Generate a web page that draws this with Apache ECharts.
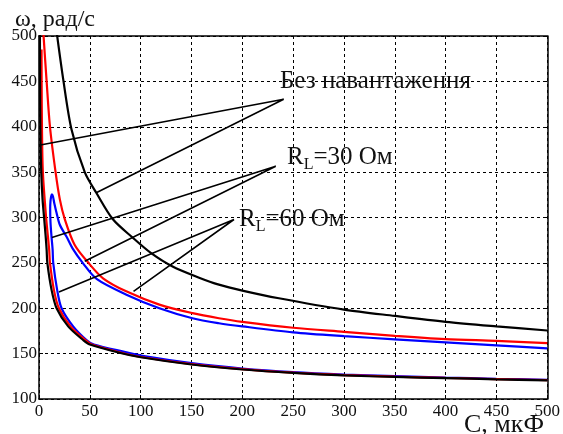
<!DOCTYPE html>
<html lang="uk">
<head>
  <meta charset="UTF-8">
  <title>ω(C)</title>
  <style>
    html, body { margin: 0; padding: 0; background: #fff; }
    #main { width: 563px; height: 434px; }
  </style>
</head>
<body>
  <div id="main"></div>
  <script src="https://cdn.jsdelivr.net/npm/echarts@6/dist/echarts.min.js"></script>
  <script>
    // ticks
    var xTicks = [0, 50, 100, 150, 200, 250, 300, 350, 400, 450, 500];
    var yTicks = [100, 150, 200, 250, 300, 350, 400, 450, 500];

    // без навантаження, нижня гілка
    var cBlackLow = [0.9, 1.0, 1.3, 2.2, 3.5, 5, 6.5, 7.5, 8.2, 12.4, 17.3, 28.7, 43.4, 50, 79, 100, 150, 200, 250, 300, 350, 400, 450, 500];
    var wBlackLow = [505, 450, 400, 350, 320, 300, 280, 264.6, 250, 220, 200, 180, 165, 160, 151, 146, 138, 132.5, 128.7, 126, 124.3, 123, 121.7, 120.5];
    // без навантаження, верхня гілка
    var cBlackUp = [17.3, 23.8, 32, 45, 56.5, 72.7, 92, 110, 131.4, 157.5, 177, 200, 236, 300, 350, 400, 450, 500];
    var wBlackUp = [505, 452.5, 397, 350, 327, 298, 278, 261, 246, 233.7, 226, 219.5, 211, 198.5, 191.5, 185, 180, 175.5];

    // RL = 60 Ом (червона)
    var cRedLow = [2.5, 2.6, 2.9, 3.8, 7, 10, 10.8, 14.7, 19.6, 31, 45.5, 52, 81, 102, 150, 200, 250, 300, 350, 400, 450, 500];
    var wRedLow = [485, 450, 400, 350, 300, 264.6, 250, 220, 200, 180, 165, 160, 151, 146, 138.5, 133, 129, 126.3, 124.6, 123.2, 122, 120.8];
    var cRedUp = [4.2, 7.5, 10.8, 16.3, 20.5, 25.4, 35, 48.2, 63, 85.8, 118.4, 151, 177, 200, 250, 300, 350, 400, 450, 500];
    var wRedUp = [505, 450, 400, 350, 320, 298, 270, 250.6, 233, 218.6, 204, 194.6, 189, 185, 178.5, 174, 169.6, 166, 164, 161.5];

    // RL = 30 Ом (синя), замкнена крива: нижня гілка -> петля -> верхня гілка
    var cBlue = [500, 450, 400, 350, 300, 250, 200, 150, 105, 84, 54, 46.7, 33.6, 22.2, 17.9, 14, 13.4, 12.3, 11.3, 11.0, 11.3, 12.0, 12.7, 13.7, 15, 17.3, 20.5, 27, 33, 43, 57, 86, 118.4, 151, 177, 200, 250, 300, 350, 400, 450, 500];
    var wBlue = [121.2, 122.3, 123.6, 125.2, 127, 129.6, 133.6, 139.5, 147, 152, 160, 165, 180, 200, 220, 250, 264.6, 279, 295, 310, 318, 323.5, 325.4, 323.5, 316, 305, 292, 279, 266, 250, 232, 215, 200, 189, 183.5, 180, 173.5, 169.3, 165.8, 162.4, 159.1, 155.8];

    // виноски: кінець, точка біля підпису, кінець
    var ptrNoLoad = [[0, 379.6], [240.7, 430.4], [56.8, 327.6]];
    var ptr30 = [[12.7, 278], [232.9, 356.4], [45, 251.7]];
    var ptr60 = [[19.6, 218], [191.8, 297.8], [93, 218.6]];

    function pairs(xs, ys) {
      return xs.map(function (x, i) { return [x, ys[i]]; });
    }

    var serif = 'Liberation Serif';

    function curve(name, xs, ys, color) {
      return {
        name: name, type: 'line', data: pairs(xs, ys),
        showSymbol: false, smooth: 0.3, clip: true,
        lineStyle: { color: color, width: 2.2 }
      };
    }

    function pointer(name, pts) {
      return {
        name: name, type: 'line', data: pts,
        showSymbol: false, clip: true,
        lineStyle: { color: '#000', width: 1.6 }
      };
    }

    function richLabel(rest) {
      return {
        text: '{a|R}{b|L}{a|' + rest + '}',
        rich: {
          a: { fontFamily: serif, fontSize: 25, lineHeight: 28, verticalAlign: 'top', fill: '#111' },
          b: { fontFamily: serif, fontSize: 16, lineHeight: 16, verticalAlign: 'bottom', fill: '#111' }
        }
      };
    }

    var myChart = echarts.init(document.getElementById('main'), null, { renderer: 'canvas' });

    var option = {
      animation: false,
      backgroundColor: '#fff',
      grid: { left: 39, right: 13, top: 36, bottom: 35 },
      xAxis: [{
        type: 'value', min: 0, max: 500, interval: 50,
        axisLine: { lineStyle: { color: '#000', width: 1.5 } },
        axisTick: { inside: true, length: 4, lineStyle: { color: '#000' } },
        axisLabel: {
          margin: 4, color: '#111', fontFamily: serif, fontSize: 17,
          formatter: function (v) { return xTicks.indexOf(v) >= 0 ? String(v) : ''; }
        },
        splitLine: { show: true, lineStyle: { color: '#000', width: 1, type: [3, 3] } }
      }, {
        type: 'value', min: 0, max: 500, interval: 50, position: 'top',
        axisLine: { onZero: false, lineStyle: { color: '#000', width: 1.5 } },
        axisTick: { show: false }, axisLabel: { show: false }, splitLine: { show: false }
      }],
      yAxis: [{
        type: 'value', min: 100, max: 500, interval: 50,
        axisLine: { show: true, lineStyle: { color: '#000', width: 1.5 } },
        axisTick: { show: true, inside: true, length: 4, lineStyle: { color: '#000' } },
        axisLabel: {
          margin: 2, color: '#111', fontFamily: serif, fontSize: 17,
          formatter: function (v) { return yTicks.indexOf(v) >= 0 ? String(v) : ''; }
        },
        splitLine: { show: true, lineStyle: { color: '#000', width: 1, type: [3, 3] } }
      }, {
        type: 'value', min: 100, max: 500, interval: 50, position: 'right',
        axisLine: { show: true, onZero: false, lineStyle: { color: '#000', width: 1.5 } },
        axisTick: { show: true, inside: true, length: 4, lineStyle: { color: '#000' } },
        axisLabel: { show: false }, splitLine: { show: false }
      }],
      series: [
        curve('RL=30 Ом', cBlue, wBlue, '#0000ff'),
        curve('RL=60 Ом, нижня', cRedLow, wRedLow, '#ff0000'),
        curve('RL=60 Ом, верхня', cRedUp, wRedUp, '#ff0000'),
        curve('Без навантаження, верхня', cBlackUp, wBlackUp, '#000'),
        curve('Без навантаження, нижня', cBlackLow, wBlackLow, '#000'),
        pointer('вказівник 1', ptrNoLoad),
        pointer('вказівник 2', ptr30),
        pointer('вказівник 3', ptr60)
      ],
      graphic: [
        { type: 'text', left: 15, top: 8, style: { text: 'ω, рад/с', fontFamily: serif, fontSize: 24, fill: '#111' } },
        { type: 'text', left: 464, top: 412, style: { text: 'С, мкФ', fontFamily: serif, fontSize: 26, fill: '#111' } },
        { type: 'text', left: 280, top: 69, style: { text: 'Без навантаження', fontFamily: serif, fontSize: 25, fill: '#111' } },
        { type: 'text', left: 287, top: 145, style: richLabel('=30 Ом') },
        { type: 'text', left: 239, top: 207, style: richLabel('=60 Ом') }
      ]
    };

    myChart.setOption(option);
  </script>
</body>
</html>
